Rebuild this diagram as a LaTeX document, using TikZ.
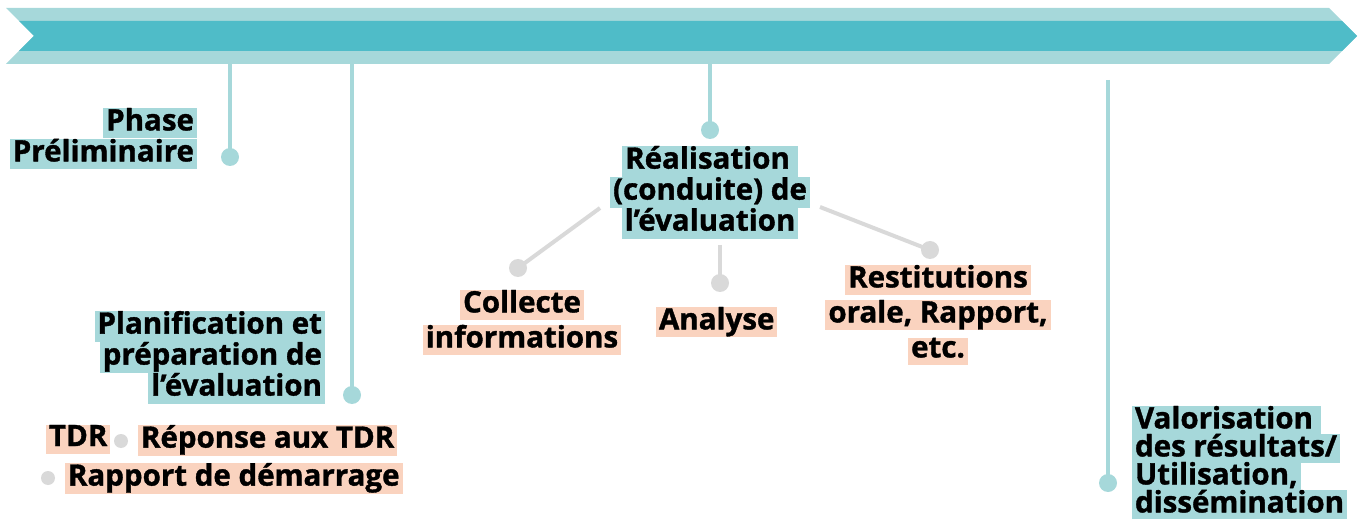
\documentclass[tikz,border=0pt]{standalone}
\usepackage{fontspec}
\setmainfont{Open Sans}[BoldFeatures={FakeBold=1.2}]
\definecolor{tealL}{HTML}{A6D8DA}
\definecolor{tealD}{HTML}{4FBCC8}
\definecolor{peach}{HTML}{FAD3BF}
\definecolor{greyc}{HTML}{D9D9D9}
\newdimen\sth \newdimen\std
\sth=23pt \std=8pt
\newcommand\hlT[1]{{\setlength\fboxsep{0pt}\colorbox{tealL}{\rule[-\std]{0pt}{\sth}\hspace{3pt}#1\hspace{3pt}}}}
\newcommand\hlP[1]{{\setlength\fboxsep{0pt}\colorbox{peach}{\rule[-\std]{0pt}{\sth}\hspace{3pt}#1\hspace{3pt}}}}
\newcommand\fontA{\fontsize{29.5}{31}\selectfont\bfseries\lineskiplimit-20pt\lineskip0pt\sth23pt\std8pt\relax}
\newcommand\fontB{\fontsize{29.5}{28}\selectfont\bfseries\lineskiplimit-20pt\lineskip0pt\sth21.5pt\std6.5pt\relax}
\newcommand\fontC{\fontsize{29.5}{35}\selectfont\bfseries\lineskiplimit-20pt\lineskip0pt\sth24pt\std8pt\relax}
\tikzset{
  lab/.style={inner sep=0pt, outer sep=0pt, font=\fontA},
  labtight/.style={inner sep=0pt, outer sep=0pt, font=\fontB},
  labgap/.style={inner sep=0pt, outer sep=0pt, font=\fontC},
  tline/.style={draw=tealL, line width=4.5pt},
  gline/.style={draw=greyc, line width=4pt},
  tdot/.style={circle, fill=tealL, minimum size=18pt, inner sep=0pt},
  gdot/.style={circle, fill=greyc, minimum size=18pt, inner sep=0pt},
  sdot/.style={circle, fill=greyc, minimum size=14pt, inner sep=0pt},
}
\begin{document}
\begin{tikzpicture}[x=1pt,y=-1pt]
\useasboundingbox (0,0) rectangle (1365,521);
% banner
\fill[tealL] (6,8) -- (1329,8) -- (1357,36) -- (1329,64) -- (6,64) -- (34,36) -- cycle;
\fill[tealD] (19,21) -- (1342,21) -- (1357,36) -- (1342,51) -- (19,51) -- (34,36) -- cycle;
\coordinate (b1) at (230,64);
\coordinate (b2) at (352,64);
\coordinate (b3) at (710,64);
\coordinate (b4) at (1108,80);
% dots
\node[tdot] (d1) at (230,157) {};
\node[tdot] (d2) at (352,395) {};
\node[tdot] (d3) at (710,130) {};
\node[tdot] (d4) at (1108,483) {};
\draw[tline] (b1) -- (d1.center);
\draw[tline] (b2) -- (d2.center);
\draw[tline] (b3) -- (d3.center);
\draw[tline] (b4) -- (d4.center);
% labels teal
\node[lab, align=right, anchor=north east] (phase) at (197,108) {\hlT{Phase}\\\hlT{Préliminaire}};
\node[lab, align=right, anchor=north east] (plan) at (325,311) {\hlT{Planification et}\\\hlT{préparation de}\\\hlT{l’évaluation}};
\node[lab, align=center, anchor=north] (real) at (710,146) {\hlT{Réalisation\,}\\\hlT{(conduite) de}\\\hlT{l’évaluation}};
\node[labtight, align=left, anchor=north west] (valo) at (1132,406) {\hlT{Valorisation\,}\\\hlT{des résultats/}\\\hlT{Utilisation,}\\\hlT{dissémination}};
% planning outputs
\node[lab, anchor=north west] (tdr) at (46,425) {\hlP{TDR}};
\node[sdot] (s1) at (121,441) {};
\node[lab, anchor=north west] (rep) at (138,425) {\hlP{Réponse aux TDR}};
\node[sdot] (s2) at (48,478) {};
\node[lab, anchor=north west] (dem) at (65,463) {\hlP{Rapport de démarrage}};
% realisation children
\coordinate (r1) at (600,208);
\coordinate (r2) at (720,245);
\coordinate (r3) at (820,207);
\node[gdot] (g1) at (518,268) {};
\node[gdot] (g2) at (720,283) {};
\node[gdot] (g3) at (930,250) {};
\draw[gline] (r1) -- (g1.center);
\draw[gline] (r2) -- (g2.center);
\draw[gline] (r3) -- (g3.center);
\node[labgap, align=center, anchor=north] (coll) at (522,290) {\hlP{Collecte}\\\hlP{informations}};
\node[lab, anchor=north west] (ana) at (656,307) {\hlP{Analyse}};
\node[labgap, align=center, anchor=north] (rest) at (938,265) {\hlP{Restitutions}\\\hlP{orale, Rapport,}\\\hlP{etc.}};
\end{tikzpicture}
\end{document}
